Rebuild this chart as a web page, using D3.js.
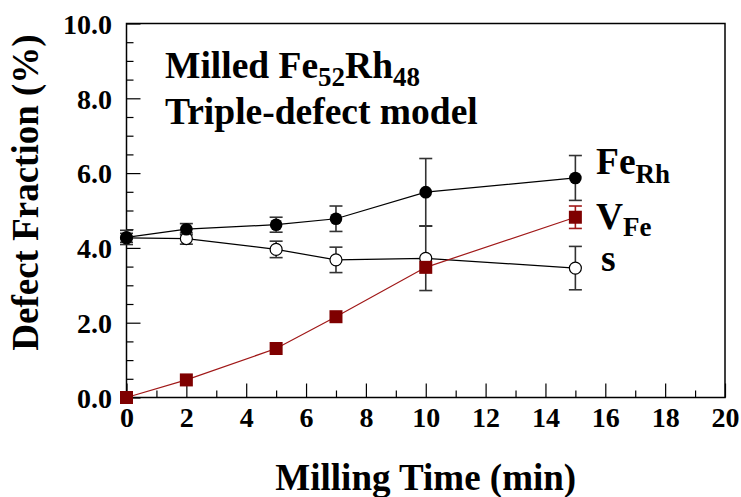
<!DOCTYPE html>
<html>
<head>
<meta charset="utf-8">
<script src="https://cdn.jsdelivr.net/npm/d3@7"></script>
<style>
html,body{margin:0;padding:0;background:#fff;}
svg text{font-family:"Liberation Serif","Times New Roman",serif;font-weight:bold;fill:#000;}
</style>
</head>
<body>
<svg id="chart" width="741" height="497"></svg>
<script>
// ---- data ----
const time = [0, 2, 5, 7, 10, 15];
const feRh = [4.28, 4.50, 4.62, 4.78, 5.49, 5.87];
const feRhErr = [0.19, 0.15, 0.20, 0.34, 0.90, 0.60];
const sDef = [4.27, 4.25, 3.96, 3.68, 3.72, 3.46];
const sErr = [0.12, 0.15, 0.22, 0.34, 0.86, 0.58];
const vFe = [0.0, 0.47, 1.31, 2.16, 3.48, 4.82];
const vFeErr = [0, 0, 0, 0, 0, 0.30];
const xTicks = [0, 2, 4, 6, 8, 10, 12, 14, 16, 18, 20];
const yTicks = [0, 2, 4, 6, 8, 10];

const svg = d3.select("#chart");
const L = 126.5, R = 725, T = 23.5, B = 397.5;
const x = d3.scaleLinear().domain([0, 20]).range([L, R]);
const y = d3.scaleLinear().domain([0, 10]).range([B, T]);

// frame
svg.append("rect").attr("x", L).attr("y", T).attr("width", R - L).attr("height", B - T)
  .attr("fill", "none").attr("stroke", "#000").attr("stroke-width", 1.5);

// x axis
const xAxis = d3.axisBottom(x).tickValues(xTicks).tickSize(-14).tickPadding(24).tickFormat(d3.format("d"));
const gx = svg.append("g").attr("transform", `translate(0,${B})`).call(xAxis);
gx.select(".domain").remove();
gx.selectAll(".tick line").attr("stroke", "#000").attr("stroke-width", 1.2);
gx.selectAll(".tick text").attr("font-size", 28).attr("dy", "0.2em");
const xMinor = d3.axisBottom(x).tickValues(d3.range(1, 20, 2)).tickSize(-7).tickFormat("");
const gxm = svg.append("g").attr("transform", `translate(0,${B})`).call(xMinor);
gxm.select(".domain").remove();
gxm.selectAll(".tick line").attr("stroke", "#000").attr("stroke-width", 1.2);

// y axis
const yAxis = d3.axisLeft(y).tickValues(yTicks).tickSize(-14).tickPadding(14.5).tickFormat(d3.format(".1f"));
const gy = svg.append("g").attr("transform", `translate(${L},0)`).call(yAxis);
gy.select(".domain").remove();
gy.selectAll(".tick line").attr("stroke", "#000").attr("stroke-width", 1.2);
gy.selectAll(".tick text").attr("font-size", 28).attr("dy", "0.35em");
const yMinorVals = d3.range(0.5, 10, 0.5).filter(v => Math.abs(v % 2) > 1e-9);
const yMinor = d3.axisLeft(y).tickValues(yMinorVals).tickSize(-7).tickFormat("");
const gym = svg.append("g").attr("transform", `translate(${L},0)`).call(yMinor);
gym.select(".domain").remove();
gym.selectAll(".tick line").attr("stroke", "#000").attr("stroke-width", 1.2);

// axis titles
svg.append("text").attr("x", (L + R) / 2).attr("y", 490).attr("text-anchor", "middle")
  .attr("font-size", 37).text("Milling Time (min)");
svg.append("text").attr("transform", `translate(38,${(T + B) / 2 - 18}) rotate(-90)`)
  .attr("text-anchor", "middle").attr("font-size", 37).text("Defect Fraction (%)");

// series
const mk = (vals) => time.map((t, i) => ({ t, v: vals[i] }));
const line = d3.line().x(d => x(d.t)).y(d => y(d.v));
svg.append("path").datum(mk(sDef)).attr("d", line).attr("fill", "none").attr("stroke", "#000").attr("stroke-width", 1.2);
svg.append("path").datum(mk(feRh)).attr("d", line).attr("fill", "none").attr("stroke", "#000").attr("stroke-width", 1.2);
svg.append("path").datum(mk(vFe)).attr("d", line).attr("fill", "none").attr("stroke", "#a01818").attr("stroke-width", 1.2);

function errBars(vals, errs, color) {
  const g = svg.append("g").attr("stroke", color).attr("stroke-width", 1.6).attr("fill", "none");
  time.forEach((t, i) => {
    if (!errs[i]) return;
    const cx = x(t), y1 = y(vals[i] + errs[i]), y2 = y(vals[i] - errs[i]);
    g.append("line").attr("x1", cx).attr("x2", cx).attr("y1", y1).attr("y2", y2);
    g.append("line").attr("x1", cx - 6.5).attr("x2", cx + 6.5).attr("y1", y1).attr("y2", y1);
    g.append("line").attr("x1", cx - 6.5).attr("x2", cx + 6.5).attr("y1", y2).attr("y2", y2);
  });
}
errBars(sDef, sErr, "#333");
errBars(feRh, feRhErr, "#333");
errBars(vFe, vFeErr, "#a01818");

// markers
svg.append("g").selectAll("circle").data(mk(sDef)).join("circle")
  .attr("cx", d => x(d.t)).attr("cy", d => y(d.v)).attr("r", 6)
  .attr("fill", "#fff").attr("stroke", "#000").attr("stroke-width", 1.2);
svg.append("g").selectAll("circle").data(mk(feRh)).join("circle")
  .attr("cx", d => x(d.t)).attr("cy", d => y(d.v)).attr("r", 6.3)
  .attr("fill", "#000");
svg.append("g").selectAll("rect").data(mk(vFe)).join("rect")
  .attr("x", d => x(d.t) - 6.5).attr("y", d => y(d.v) - 6.5).attr("width", 13).attr("height", 13)
  .attr("fill", "#7f0000");

// annotation
const t1 = svg.append("text").attr("x", 165).attr("y", 78).attr("font-size", 37.5);
t1.append("tspan").text("Milled Fe");
t1.append("tspan").attr("font-size", 27).attr("dy", 8).text("52");
t1.append("tspan").attr("dy", -8).text("Rh");
t1.append("tspan").attr("font-size", 27).attr("dy", 8).text("48");
svg.append("text").attr("x", 165).attr("y", 124).attr("font-size", 37.5).text("Triple-defect model");

// series labels
const l1 = svg.append("text").attr("x", 596).attr("y", 174).attr("font-size", 37.5);
l1.append("tspan").text("Fe");
l1.append("tspan").attr("font-size", 27).attr("dy", 9).text("Rh");
const l2 = svg.append("text").attr("x", 596).attr("y", 229).attr("font-size", 37.5);
l2.append("tspan").text("V");
l2.append("tspan").attr("font-size", 27).attr("dy", 7).text("Fe");
svg.append("text").attr("x", 601).attr("y", 271).attr("font-size", 37.5).text("s");
</script>
</body>
</html>
